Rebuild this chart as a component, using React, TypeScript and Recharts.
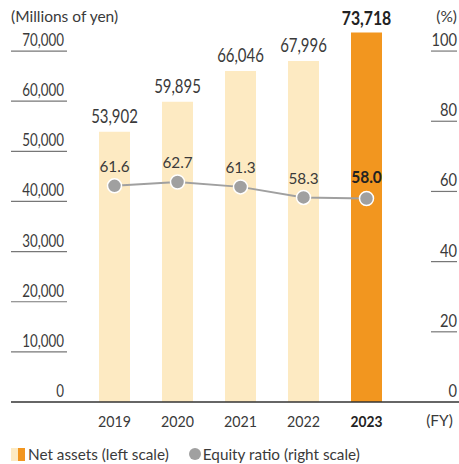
import { ComposedChart, Bar, Line, XAxis, YAxis, Cell, LabelList } from "recharts";

const YEARS = ["2019", "2020", "2021", "2022", "2023"];
const NET_ASSETS = [53902, 59895, 66046, 67996, 73718];
const EQUITY_RATIO = [61.6, 62.7, 61.3, 58.3, 58.0];
const LEFT_TICKS = [0, 10000, 20000, 30000, 40000, 50000, 60000, 70000];
const RIGHT_TICKS = [0, 20, 40, 60, 80, 100];

const NUM_FONT = "Lato, 'Noto Sans', sans-serif";
const TEXT_FONT = "Lato, 'Noto Sans', sans-serif";
const LIGHT = "#fdeac2";
const ORANGE = "#f2961f";
const GRAY = "#a0a0a0";
const TEXT = "#3a3a3a";

const data = YEARS.map((year, i) => ({
  year,
  assets: NET_ASSETS[i],
  ratio: EQUITY_RATIO[i],
}));

const last = YEARS.length - 1;

// condensed-looking number text: squeeze horizontally around the anchor point
function CText({ x, y, anchor = "middle", size = 17, bold = false, sx = 0.8, children }: any) {
  return (
    <text
      transform={`translate(${x},${y}) scale(${sx},1)`}
      x={0}
      y={0}
      textAnchor={anchor}
      fontSize={size}
      fontFamily={NUM_FONT}
      fontWeight={bold ? 700 : 400}
      fill={bold ? "#222" : TEXT}
    >
      {children}
    </text>
  );
}

function LeftTick({ y, payload }: any) {
  const v = payload.value as number;
  return (
    <g>
      <CText x={64} y={y - 5} anchor="end" size={16.7} sx={0.8}>
        {v.toLocaleString("en-US")}
      </CText>
      {v === 0 ? (
        <line x1={11} x2={459} y1={y} y2={y} stroke="#333" strokeWidth={1.5} />
      ) : (
        <line x1={11} x2={67} y1={y} y2={y} stroke="#777" strokeWidth={1.2} />
      )}
    </g>
  );
}

function RightTick({ y, payload }: any) {
  const v = payload.value as number;
  return (
    <g>
      <CText x={457} y={y - 5} anchor="end" size={16.3} sx={0.9}>
        {v}
      </CText>
      {v !== 0 && <line x1={431} x2={457} y1={y} y2={y} stroke="#777" strokeWidth={1.2} />}
    </g>
  );
}

function YearTick({ x, payload, index }: any) {
  const bold = payload.index === last || index === last;
  return (
    <CText x={x} y={427} size={14.5} sx={bold ? 0.95 : 0.98} bold={bold}>
      {payload.value}
    </CText>
  );
}

function BarValue({ x, y, width, value, index }: any) {
  const bold = index === last;
  return (
    <CText
      x={x + width / 2}
      y={bold ? y - 7 : y - 9}
      size={bold ? 19.5 : 18.7}
      sx={bold ? 0.81 : 0.8}
      bold={bold}
    >
      {Number(value).toLocaleString("en-US")}
    </CText>
  );
}

function RatioValue({ x, y, value, index }: any) {
  const bold = index === last;
  return (
    <CText x={x} y={bold ? y - 15 : y - 13.5} size={bold ? 16.7 : 15.3} sx={bold ? 0.93 : 1} bold={bold}>
      {Number(value).toFixed(1)}
    </CText>
  );
}

export default function App() {
  return (
    <div style={{ position: "absolute", left: 0, top: 0, width: 459, height: 464, background: "#fff" }}>
      <div
        style={{
          position: "absolute",
          left: 11,
          top: 7,
          fontSize: 15.5,
          fontFamily: TEXT_FONT,
          color: TEXT,
        }}
      >
        (Millions of yen)
      </div>
      <div
        style={{
          position: "absolute",
          right: 2,
          top: 7,
          fontSize: 15.5,
          fontFamily: TEXT_FONT,
          color: TEXT,
        }}
      >
        (%)
      </div>
      <div
        style={{
          position: "absolute",
          right: 6,
          top: 411,
          fontSize: 15.5,
          fontFamily: TEXT_FONT,
          color: TEXT,
        }}
      >
        (FY)
      </div>
      <ComposedChart
        width={459}
        height={464}
        data={data}
        margin={{ top: 26, right: 0, bottom: 32, left: 0 }}
      >
        <XAxis
          dataKey="year"
          axisLine={false}
          tickLine={false}
          height={30}
          tick={<YearTick />}
          interval={0}
        />
        <YAxis
          yAxisId="left"
          width={83}
          domain={[0, 75000]}
          ticks={LEFT_TICKS}
          axisLine={false}
          tickLine={false}
          tick={<LeftTick />}
          interval={0}
        />
        <YAxis
          yAxisId="right"
          orientation="right"
          width={61}
          domain={[0, 100 * 75000 / 70000]}
          ticks={RIGHT_TICKS}
          axisLine={false}
          tickLine={false}
          tick={<RightTick />}
          interval={0}
        />
        <Bar yAxisId="left" dataKey="assets" barSize={31} isAnimationActive={false}>
          {data.map((d, i) => (
            <Cell key={d.year} fill={i === last ? ORANGE : LIGHT} />
          ))}
          <LabelList dataKey="assets" content={<BarValue />} />
        </Bar>
        <Line
          yAxisId="right"
          dataKey="ratio"
          stroke={GRAY}
          strokeWidth={2}
          dot={{ r: 7, fill: GRAY, stroke: "#fff", strokeWidth: 1.5 }}
          isAnimationActive={false}
        >
          <LabelList dataKey="ratio" content={<RatioValue />} />
        </Line>
      </ComposedChart>
      <div
        style={{
          position: "absolute",
          left: 11,
          top: 445,
          display: "flex",
          alignItems: "center",
          fontSize: 15.3,
          fontFamily: TEXT_FONT,
          color: TEXT,
          whiteSpace: "nowrap",
        }}
      >
        <span style={{ display: "inline-block", width: 7, height: 13, background: LIGHT }} />
        <span style={{ display: "inline-block", width: 7, height: 13, background: ORANGE, marginRight: 3 }} />
        <span>Net assets (left scale)</span>
        <span
          style={{
            display: "inline-block",
            width: 12,
            height: 12,
            borderRadius: 6,
            background: GRAY,
            marginLeft: 20,
            marginRight: 2,
          }}
        />
        <span>Equity ratio (right scale)</span>
      </div>
    </div>
  );
}
